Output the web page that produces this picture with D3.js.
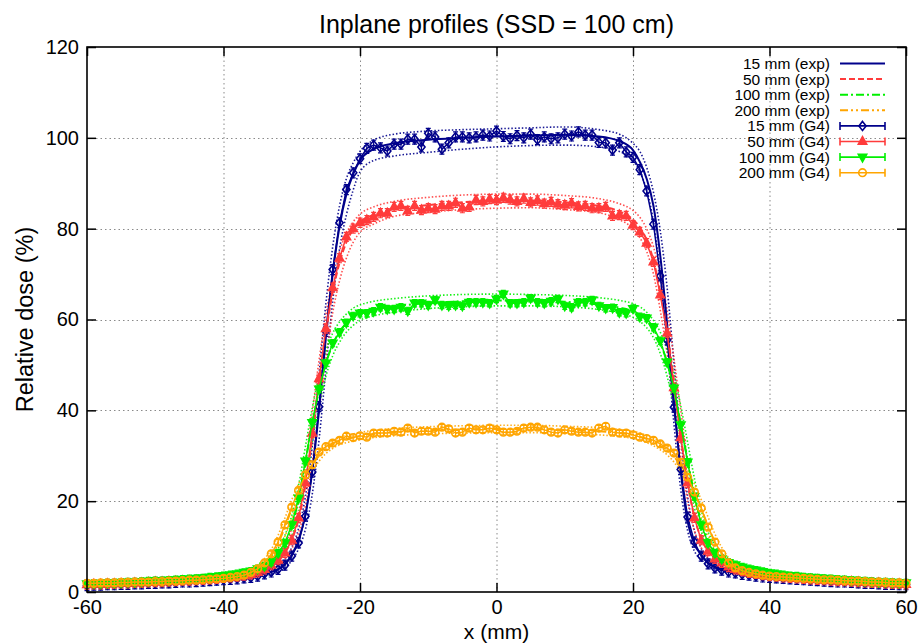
<!DOCTYPE html>
<html><head><meta charset="utf-8">
<script src="https://cdn.jsdelivr.net/npm/d3@7"></script>
<style>body{margin:0;background:#fff} svg{display:block} text{font-family:"Liberation Sans",Arial,Helvetica,sans-serif;fill:#000}</style>
</head><body><svg id="c" width="922" height="643"></svg>
<script>
// ---------------- DATA ----------------
const xTicks = [-60,-40,-20,0,20,40,60];
const yTicks = [0,20,40,60,80,100,120];
const depths = ["15 mm","50 mm","100 mm","200 mm"];

// experimental profiles (x in mm)
const expX = [-60,-50,-40,-36,-34,-33,-32,-31,-30,-29,-28,-27,-26,-25,-24,-23,-22,-21,-20,-18,-15,-10,-5,0,5,10,15,18,20,21,22,23,24,25,26,27,28,29,30,31,32,33,34,36,40,50,60];
const exp15 = [1.5,2.0,2.8,3.5,4.0, 4.4,5.0,6.2,8.2,11.5, 17.0,26.5,40.0,56.0,70.0, 80.5,87.5,92.0,95.0,97.5, 98.8,99.6,100.0,100.3,100.5, 100.7,100.3,99.3,97.3,94.7, 91.0,85.0,74.0,59.0,42.0, 26.5,15.5,10.5,8.2,6.5, 5.6,5.1,4.8,4.2,3.3, 2.2,1.6];
const exp15Up = [1.7,2.3,3.1,3.9,4.5, 5.0,5.8,7.3,9.8,14.0, 21.0,32.0,48.0,63.5,76.0, 85.0,91.0,94.5,97.0,99.5, 100.8,101.5,101.8,102.0,102.2, 102.4,101.8,100.8,98.8,97.0, 93.5,88.0,79.5,67.0,50.5, 34.0,21.0,13.5,9.6,7.4, 6.2,5.5,5.1,4.5,3.6, 2.5,1.8];
const exp15Lo = [1.3,1.8,2.5,3.1,3.6, 3.9,4.4,5.3,6.9,9.5, 13.8,21.5,33.5,49.0,64.0, 75.5,83.0,88.5,92.5,95.0, 96.0,96.8,97.5,98.0,98.3, 98.4,98.0,97.0,95.0,92.5, 88.5,81.5,70.0,54.0,37.0, 22.5,13.5,9.0,7.0,5.7, 5.0,4.6,4.3,3.8,3.0, 2.0,1.4];
const exp50 = [1.7,2.2,3.1,3.9,4.8, 5.6,6.8,8.6,11.5,16.0, 23.5,34.0,46.0,57.0,66.0, 72.5,77.0,79.8,81.5,83.0, 84.3,85.2,85.8,86.2,86.2, 85.8,85.0,83.8,82.0,80.3, 77.5,73.0,66.0,57.5,46.5, 34.5,24.0,16.5,11.8,9.0, 7.4,6.4,5.7,4.8,3.7, 2.5,1.8];
const exp50Up = [1.9,2.5,3.5,4.4,5.5, 6.5,8.0,10.3,14.0,19.8, 28.5,39.5,51.0,61.0,69.0, 75.0,79.0,81.5,83.2,84.8, 86.0,86.9,87.4,87.6,87.6, 87.3,86.6,85.5,84.0,82.5, 80.0,76.0,70.0,62.0,51.5, 40.0,29.0,20.5,14.5,10.8, 8.6,7.3,6.4,5.3,4.0, 2.8,2.0];
const exp50Lo = [1.5,2.0,2.8,3.5,4.2, 4.8,5.8,7.2,9.5,13.0, 19.0,28.5,40.0,51.5,61.5, 68.5,73.5,77.0,79.2,81.0, 82.7,83.6,84.2,84.5,84.6, 84.2,83.5,82.0,80.0,78.0, 75.0,70.0,62.0,52.5,41.0, 29.5,20.0,13.5,9.8,7.6, 6.4,5.6,5.1,4.4,3.4, 2.3,1.6];
const exp100 = [1.9,2.5,3.6,4.7,5.8, 6.8,8.3,10.8,14.5,20.5, 28.5,37.0,44.5,50.3,54.5, 57.3,59.2,60.5,61.4,62.2, 62.9,63.6,64.0,64.2,64.2, 63.9,63.3,62.6,61.8,61.0, 59.8,57.8,54.8,50.5,44.5, 37.0,29.0,21.5,15.5,11.5, 9.0,7.5,6.6,5.5,4.3, 2.9,2.0];
const exp100Up = [2.1,2.8,4.0,5.3,6.6, 7.8,9.6,12.5,16.8,23.5, 32.0,40.5,47.5,53.0,57.0, 59.5,61.2,62.5,63.2,64.0, 64.6,65.2,65.5,65.6,65.5, 65.3,64.8,64.2,63.5,62.8, 61.6,59.8,57.2,53.5,48.0, 41.0,33.0,25.0,18.0,13.3, 10.3,8.5,7.4,6.0,4.7, 3.2,2.2];
const exp100Lo = [1.7,2.3,3.3,4.2,5.1, 5.9,7.1,9.2,12.3,17.5, 25.0,33.0,41.0,47.5,52.0, 55.0,57.2,58.7,59.8,60.8, 61.6,62.4,62.8,63.0,63.0, 62.8,62.2,61.4,60.5,59.6, 58.2,56.0,52.5,47.5,41.0, 33.5,25.5,18.5,13.3,10.0, 7.9,6.7,6.0,5.0,3.9, 2.6,1.8];
const exp200 = [2.0,2.3,3.0,4.2,6.2, 8.0,10.7,14.3,18.3,22.0, 25.3,28.0,30.0,31.5,32.5, 33.2,33.7,34.0,34.3,34.8, 35.2,35.6,35.8,35.9,35.9, 35.7,35.4,35.0,34.6,34.2, 33.7,33.0,32.2,31.2,29.8, 27.8,25.0,21.8,18.3,14.5, 11.0,8.5,6.6,4.6,3.4, 2.6,2.0];
const exp200Up = [2.2,2.6,3.4,4.9,7.3, 9.4,12.5,16.3,20.3,23.8, 26.8,29.2,31.0,32.4,33.3, 34.0,34.5,34.8,35.1,35.6, 36.0,36.4,36.6,36.7,36.7, 36.5,36.2,35.8,35.4,35.0, 34.5,33.9,33.1,32.2,31.0, 29.3,26.8,23.8,20.3,16.5, 12.8,9.8,7.6,5.2,3.8, 2.9,2.2];
const exp200Lo = [1.8,2.1,2.7,3.7,5.3, 6.8,9.1,12.3,16.2,20.0, 23.6,26.6,28.8,30.5,31.6, 32.4,32.9,33.2,33.5,34.0, 34.4,34.8,35.0,35.1,35.1, 34.9,34.6,34.2,33.8,33.4, 32.9,32.2,31.3,30.2,28.6, 26.3,23.3,20.0,16.3,12.6, 9.3,7.2,5.8,4.1,3.0, 2.3,1.8];

// Geant4 simulated profiles (1 mm pitch)
const g4X = [-60,-59,-58,-57,-56,-55,-54,-53,-52,-51,-50,-49,-48,-47,-46,-45,-44,-43,-42,-41,-40,-39,-38,-37,-36,-35,-34,-33,-32,-31,-30,-29,-28,-27,-26,-25,-24,-23,-22,-21,-20,-19,-18,-17,-16,-15,-14,-13,-12,-11,-10,-9,-8,-7,-6,-5,-4,-3,-2,-1,0,1,2,3,4,5,6,7,8,9,10,11,12,13,14,15,16,17,18,19,20,21,22,23,24,25,26,27,28,29,30,31,32,33,34,35,36,37,38,39,40,41,42,43,44,45,46,47,48,49,50,51,52,53,54,55,56,57,58,59,60];
const g4_15 = [1.4,1.5,1.5,1.6,1.6,1.7,1.7,1.8,1.8,1.9,
  1.9,2.0,2.0,2.1,2.2,2.2,2.3,2.4,2.5,2.6,
  2.7,2.8,2.9,3.1,3.2,3.5,4.0,4.4,5.0,5.9,
  7.9,10.8,16.7,26.4,40.8,57.4,71.0,81.3,88.6,92.3,
  95.4,97.7,98.4,97.8,97.1,98.6,98.6,99.7,99.7,98.0,
  101.0,100.2,97.5,98.9,100.2,100.2,100.0,100.2,100.6,100.4,
  101.5,100.3,99.8,100.5,100.0,100.8,99.6,100.2,99.8,100.0,
  100.8,100.4,101.3,100.6,100.6,99.0,98.9,97.3,98.9,96.9,
  95.7,93.0,88.3,81.0,69.6,55.5,40.7,27.0,16.5,11.0,
  7.9,6.2,5.3,4.8,4.4,4.2,3.9,3.7,3.5,3.3,
  3.2,3.1,3.0,2.9,2.8,2.7,2.6,2.5,2.4,2.3,
  2.2,2.2,2.1,2.0,1.9,1.9,1.8,1.7,1.7,1.6,1.6];
const g4_50 = [1.6,1.7,1.7,1.8,1.8,1.9,1.9,2.0,2.0,2.1,
  2.2,2.2,2.3,2.4,2.5,2.5,2.6,2.7,2.8,2.9,
  3.1,3.2,3.4,3.6,3.9,4.3,5.0,5.9,7.0,8.6,
  11.4,16.3,24.0,35.0,47.0,58.0,67.0,73.5,78.2,80.0,
  81.3,81.9,82.6,83.4,83.4,84.8,85.0,83.9,85.0,84.1,
  84.5,84.3,85.0,85.0,85.7,84.5,84.8,86.3,86.0,86.5,
  86.3,86.8,86.4,86.0,86.6,85.8,86.2,85.5,85.9,85.4,
  85.2,85.6,84.9,85.0,84.5,84.5,84.8,82.8,83.0,82.8,
  80.8,79.3,76.8,72.7,65.4,57.0,45.0,34.0,24.0,16.3,
  11.4,9.0,7.3,6.4,5.5,5.0,4.6,4.2,4.0,3.7,
  3.5,3.4,3.2,3.1,3.0,2.9,2.8,2.7,2.6,2.5,
  2.4,2.4,2.3,2.2,2.1,2.0,2.0,1.9,1.8,1.8,1.7];
const g4_100 = [1.8,1.9,1.9,2.0,2.0,2.1,2.2,2.2,2.3,2.4,
  2.5,2.5,2.6,2.7,2.8,2.9,3.0,3.1,3.3,3.4,
  3.6,3.8,4.0,4.3,4.6,5.1,5.7,6.6,8.6,10.8,
  14.8,20.7,28.8,37.3,44.7,50.4,54.8,57.2,59.3,60.8,
  61.4,61.4,61.8,62.7,62.3,62.3,62.7,61.9,63.6,63.6,
  63.2,64.3,63.2,63.0,63.2,63.0,63.8,63.8,63.8,63.6,
  64.5,65.6,63.6,63.6,63.8,64.7,63.8,63.6,64.0,64.5,
  63.0,62.7,63.8,63.8,64.3,63.0,62.5,62.6,61.6,61.4,
  62.4,60.6,60.3,58.3,55.3,50.6,44.9,36.8,28.6,21.0,
  14.8,10.8,8.6,7.3,6.5,6.0,5.5,5.1,4.8,4.5,
  4.2,4.0,3.8,3.6,3.5,3.3,3.2,3.1,3.0,2.9,
  2.8,2.7,2.6,2.5,2.4,2.3,2.2,2.2,2.1,2.0,2.0];
const g4_200 = [1.9,1.9,2.0,2.0,2.0,2.1,2.1,2.2,2.2,2.2,
  2.3,2.3,2.4,2.4,2.5,2.6,2.6,2.7,2.8,2.9,
  3.0,3.2,3.4,3.7,4.3,5.1,6.4,8.4,11.0,14.8,
  18.7,22.4,25.8,28.0,30.8,32.0,32.8,33.4,34.3,34.0,
  34.4,34.1,35.0,35.0,35.0,35.4,35.2,36.1,35.0,35.4,
  35.4,35.2,36.3,35.9,35.0,35.2,36.1,35.7,35.7,36.1,
  35.7,35.2,35.2,35.4,36.1,36.3,36.3,35.7,35.2,35.0,
  35.7,35.4,35.2,35.2,35.0,36.1,36.5,35.2,35.0,35.0,
  34.6,34.1,33.8,33.4,32.6,31.7,30.6,28.6,25.3,22.0,
  18.5,14.3,11.0,8.4,6.4,5.3,4.7,4.3,4.0,3.7,
  3.5,3.4,3.3,3.2,3.1,3.0,2.9,2.8,2.7,2.7,
  2.6,2.5,2.4,2.4,2.3,2.2,2.2,2.1,2.0,2.0,1.9];
const g4Err = [1.1, 1.0, 0.8, 0.6];   // statistical uncertainty (%)

// ---------------- STYLE ----------------
const colors = ["#00008b", "#ff3b3b", "#00f000", "#ffa500"];
const dashes = [null, "6,3", "8,3,2,3", "8,3,2,3,2,3"];
const markers = ["diamond", "triUp", "triDown", "circle"];

// ---------------- CHART ----------------
const svg = d3.select("#c");
const L = 87, R = 906, T = 47, B = 592;
const x = d3.scaleLinear().domain([-60, 60]).range([L, R]);
const y = d3.scaleLinear().domain([0, 120]).range([B, T]);

// grid
const grid = svg.append("g").attr("stroke", "#8a8a8a").attr("stroke-width", 1).attr("stroke-dasharray", "1.5,3");
grid.selectAll(".gx").data(xTicks.slice(1, -1)).join("line")
  .attr("x1", d => x(d) + 0.5).attr("x2", d => x(d) + 0.5).attr("y1", T).attr("y2", B);
grid.selectAll(".gy").data(yTicks.slice(1, -1)).join("line")
  .attr("y1", d => Math.round(y(d)) + 0.5).attr("y2", d => Math.round(y(d)) + 0.5).attr("x1", L).attr("x2", R);

// axes
function styleAxis(g) { g.select(".domain").remove(); g.selectAll(".tick line").attr("stroke", "#000").attr("stroke-width", 1.5); g.selectAll("text").attr("font-size", 20).attr("font-family", "Liberation Sans, Arial, sans-serif"); }
svg.append("g").attr("transform", `translate(0,${B})`)
  .call(d3.axisBottom(x).tickValues(xTicks).tickSize(-9).tickPadding(8).tickFormat(d => String(d))).call(styleAxis);
svg.append("g").attr("transform", `translate(${L},0)`)
  .call(d3.axisLeft(y).tickValues(yTicks).tickSize(-9).tickPadding(8).tickFormat(d => String(d))).call(styleAxis);
svg.append("g").attr("transform", `translate(0,${T})`)
  .call(d3.axisTop(x).tickValues(xTicks).tickSize(-9).tickFormat("")).call(styleAxis);
svg.append("g").attr("transform", `translate(${R},0)`)
  .call(d3.axisRight(y).tickValues(yTicks).tickSize(-9).tickFormat("")).call(styleAxis);

// experimental curves
const expSets = [[exp15, exp15Up, exp15Lo], [exp50, exp50Up, exp50Lo], [exp100, exp100Up, exp100Lo], [exp200, exp200Up, exp200Lo]];
const curveLine = d3.line().x(d => x(d[0])).y(d => y(d[1])).curve(d3.curveMonotoneX);
const gEnv = svg.append("g");
expSets.forEach((s, i) => {
  [s[1], s[2]].forEach(arr => {
    gEnv.append("path").datum(expX.map((v, k) => [v, arr[k]]))
      .attr("d", curveLine).attr("fill", "none").attr("stroke", colors[i])
      .attr("stroke-width", 1.6).attr("stroke-dasharray", "1.5,2").attr("opacity", 0.9);
  });
});
const gExp = svg.append("g");
expSets.forEach((s, i) => {
  gExp.append("path").datum(expX.map((v, k) => [v, s[0][k]]))
    .attr("d", curveLine).attr("fill", "none").attr("stroke", colors[i])
    .attr("stroke-width", 2).attr("stroke-dasharray", dashes[i]);
});

// marker shapes
function markerPath(type, cx, cy) {
  switch (type) {
    case "diamond": return `M${cx},${cy - 4.5}L${cx + 3.6},${cy}L${cx},${cy + 4.5}L${cx - 3.6},${cy}Z`;
    case "triUp": return `M${cx},${cy - 4.8}L${cx + 4.2},${cy + 2.8}L${cx - 4.2},${cy + 2.8}Z`;
    case "triDown": return `M${cx},${cy + 4.8}L${cx + 4.2},${cy - 2.8}L${cx - 4.2},${cy - 2.8}Z`;
    case "circle": return `M${cx - 3.8},${cy}a3.8,3.8 0 1,0 7.6,0a3.8,3.8 0 1,0 -7.6,0Z`;
  }
}
const filled = [false, true, true, false];

// Geant4 series
const g4Sets = [g4_15, g4_50, g4_100, g4_200];
const straight = d3.line().x(d => x(d[0])).y(d => y(d[1]));
g4Sets.forEach((vals, i) => {
  const pts = g4X.map((v, k) => [v, vals[k]]);
  const g = svg.append("g").attr("stroke", colors[i]).attr("fill", "none");
  g.append("path").datum(pts).attr("d", straight).attr("stroke-width", 1.5);
  const e = g4Err[i];
  g.selectAll(".eb").data(pts).join("path")
    .attr("d", d => { const cx = x(d[0]), y1 = y(d[1] - e), y2 = y(d[1] + e);
      return `M${cx},${y1}V${y2}M${cx - 2.5},${y1}H${cx + 2.5}M${cx - 2.5},${y2}H${cx + 2.5}`; })
    .attr("stroke-width", 1.2);
  g.selectAll(".mk").data(pts).join("path")
    .attr("d", d => markerPath(markers[i], x(d[0]), y(d[1])))
    .attr("fill", filled[i] ? colors[i] : "none").attr("stroke-width", 1.6);
});

// frame
svg.append("rect").attr("x", L).attr("y", T).attr("width", R - L).attr("height", B - T)
  .attr("fill", "none").attr("stroke", "#000").attr("stroke-width", 1.6);

// legend
const legLabels = ["15 mm (exp)", "50 mm (exp)", "100 mm (exp)", "200 mm (exp)", "15 mm (G4)", "50 mm (G4)", "100 mm (G4)", "200 mm (G4)"];
const leg = svg.append("g");
legLabels.forEach((lab, j) => {
  const cy = 63.5 + j * 15.6;
  const i = j % 4;
  leg.append("text").attr("x", 830).attr("y", cy).attr("dy", "0.36em").attr("text-anchor", "end")
    .attr("font-size", 15.5).text(lab);
  if (j < 4) {
    leg.append("line").attr("x1", 840).attr("x2", 885).attr("y1", cy).attr("y2", cy)
      .attr("stroke", colors[i]).attr("stroke-width", 2).attr("stroke-dasharray", dashes[i]);
  } else {
    leg.append("path").attr("d", `M840,${cy}H885M840,${cy - 4}V${cy + 4}M885,${cy - 4}V${cy + 4}`)
      .attr("stroke", colors[i]).attr("stroke-width", 1.6).attr("fill", "none");
    leg.append("path").attr("d", markerPath(markers[i], 862.5, cy))
      .attr("stroke", colors[i]).attr("stroke-width", 1.6).attr("fill", filled[i] ? colors[i] : "none");
  }
});

// titles
svg.append("text").attr("x", (L + R) / 2).attr("y", 33).attr("text-anchor", "middle").attr("font-size", 25)
  .text("Inplane profiles (SSD = 100 cm)");
svg.append("text").attr("x", (L + R) / 2).attr("y", 638.5).attr("text-anchor", "middle").attr("font-size", 21)
  .text("x (mm)");
svg.append("text").attr("transform", `translate(33,${(T + B) / 2}) rotate(-90)`).attr("text-anchor", "middle")
  .attr("font-size", 23.5).text("Relative dose (%)");
</script></body></html>
